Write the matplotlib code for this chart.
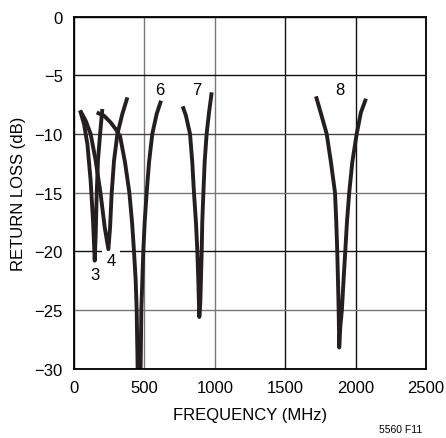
import matplotlib.pyplot as plt

plt.rcParams['font.family'] = ['Liberation Sans', 'DejaVu Sans']

# curve data (frequency in MHz, return loss in dB)
f3 = [43, 71, 95, 118, 135, 147, 154, 161, 170, 185, 201]
r3 = [-8.0, -9.16, -10.87, -13.99, -17.4, -20.8, -18.54, -15.13, -12.29, -10.01, -7.88]

f4 = [43, 83, 118, 154, 189, 218, 244, 256, 267, 284, 308, 343, 379]
r4 = [-8.0, -8.88, -10.01, -12.29, -15.13, -17.97, -19.82, -17.97, -15.13, -12.29, -10.01, -8.31, -6.89]

f6 = [161, 213, 260, 296, 327, 362, 393, 412, 426, 438, 445, 452,
      473, 478, 485, 492, 502, 516, 533, 556, 587, 618]
r6 = [-8.17, -8.45, -9.02, -9.59, -10.2, -12.4, -15.0, -17.5, -20.0, -22.5, -25.0, -30.0,
      -30.0, -25.0, -22.5, -20.0, -17.5, -15.0, -12.4, -10.0, -8.3, -7.17]

f7 = [772, 795, 824, 840, 852, 866, 876, 883, 890, 897, 907, 911, 919, 928, 942, 959, 978]
r7 = [-7.65, -8.45, -10.0, -12.4, -15.0, -17.5, -20.0, -22.5, -25.6, -24.4, -20.0, -17.5,
      -15.0, -12.4, -10.0, -8.17, -6.46]

f8 = [1719, 1752, 1795, 1825, 1854, 1863, 1870, 1875, 1880, 1884,
      1892, 1903, 1915, 1927, 1939, 1955, 1977, 2008, 2038, 2074]
r8 = [-6.8, -8.17, -10.0, -12.4, -15.0, -17.5, -20.0, -22.4, -25.0, -28.2,
      -26.35, -25.0, -22.4, -20.0, -17.5, -15.0, -12.4, -10.0, -8.17, -7.0]

labels = ['3', '4', '6', '7', '8']
label_f = [149, 263, 611, 871, 1889]
label_r = [-22.0, -20.8, -6.2, -6.2, -6.2]

x_ticks = [0, 500, 1000, 1500, 2000, 2500]
y_ticks = [0, -5, -10, -15, -20, -25, -30]

fig = plt.figure(figsize=(4.46, 4.39), dpi=100)
ax = fig.add_axes([0.166, 0.158, 0.789, 0.802])

for f, r in [(f3, r3), (f4, r4), (f6, r6), (f7, r7), (f8, r8)]:
    ax.plot(f, r, color='#231f20', lw=2.8, solid_capstyle='butt',
            solid_joinstyle='round', zorder=3)

for lab, x, y in zip(labels, label_f, label_r):
    kw = {}
    if lab == '4':
        kw['bbox'] = dict(facecolor='white', edgecolor='none', pad=3)
    ax.text(x, y, lab, fontsize=12, ha='center', va='center', zorder=2, **kw)

ax.set_xlim(0, 2500)
ax.set_ylim(-30, 0)
ax.set_xticks(x_ticks)
ax.set_yticks(y_ticks)
ax.set_xticklabels([str(v) for v in x_ticks])
ax.set_yticklabels([str(v).replace('-', '\u2212') for v in y_ticks])
ax.tick_params(length=0, labelsize=12, pad=8)
ax.grid(True, color='#555555', lw=1)
ax.set_axisbelow(True)

# the scanned grid is a mix of black and grey lines
x_grid_col = ['#111', '#777', '#777', '#111', '#111', '#111']
y_grid_col = ['#111', '#111', '#444', '#777', '#111', '#777', '#111']
for gl, c in zip(ax.get_xgridlines(), x_grid_col):
    gl.set_color(c)
for gl, c in zip(ax.get_ygridlines(), y_grid_col):
    gl.set_color(c)

for s in ax.spines.values():
    s.set_linewidth(1.3)
    s.set_zorder(4)

ax.set_xlabel('FREQUENCY (MHz)', fontsize=12, labelpad=9)
ax.set_ylabel('RETURN LOSS (dB)', fontsize=12, labelpad=6)

fig.text(0.947, 0.008, '5560 F11', fontsize=7.5, ha='right', va='bottom')

fig.savefig('out.png', dpi=100)
